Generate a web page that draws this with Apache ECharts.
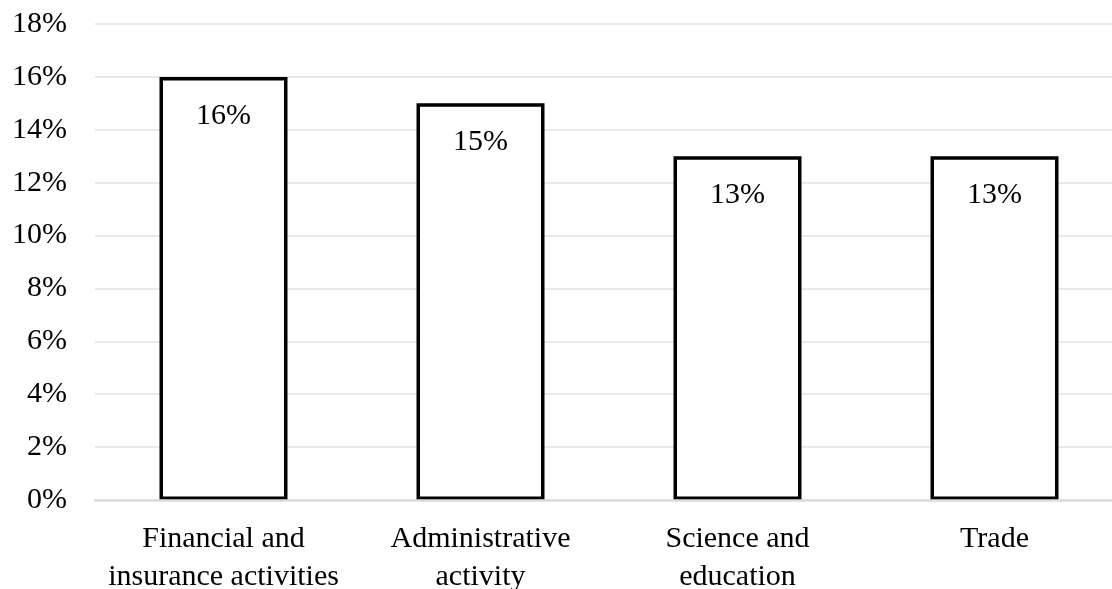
<!DOCTYPE html>
<html>
<head>
<meta charset="utf-8">
<script src="https://cdn.jsdelivr.net/npm/echarts@6/dist/echarts.min.js"></script>
<style>
  html, body { margin: 0; padding: 0; background: #fff; }
  #chart { width: 1112px; height: 589px; }
</style>
</head>
<body>
<div id="chart"></div>
<script>
const categories = [
  'Financial and\ninsurance activities',
  'Administrative\nactivity',
  'Science and\neducation',
  'Trade',
]
const shares = [16, 15, 13, 13]

const font = '"Liberation Serif", "Times New Roman", serif'
const chart = echarts.init(document.getElementById('chart'))

chart.setOption({
  animation: false,
  grid: {
    left: 95,
    top: 24,
    width: 1028,
    bottom: 89,
    outerBoundsMode: 'none',
    containLabel: false,
  },
  xAxis: {
    type: 'category',
    data: categories,
    z: 10,
    axisLine: { lineStyle: { color: '#d9dce3', width: 2.5 } },
    axisTick: { show: false },
    axisLabel: {
      color: '#000',
      fontFamily: font,
      fontSize: 30,
      lineHeight: 38,
      margin: 20,
      interval: 0,
    },
  },
  yAxis: {
    type: 'value',
    min: 0,
    max: 18,
    interval: 2,
    axisLine: { show: false },
    axisTick: { show: false },
    splitLine: { lineStyle: { color: '#dfe2e8', width: 1.5 } },
    axisLabel: {
      color: '#000',
      fontFamily: font,
      fontSize: 30,
      margin: 28,
      formatter: '{value}%',
    },
  },
  series: [
    {
      type: 'bar',
      data: shares,
      barWidth: 128,
      itemStyle: {
        color: '#fff',
        borderColor: '#000',
        borderWidth: 3.5,
      },
      label: {
        show: true,
        position: 'insideTop',
        distance: 18,
        formatter: '{c}%',
        color: '#000',
        fontFamily: font,
        fontSize: 30,
        backgroundColor: '#fff',
        padding: [6, 11],
      },
    },
  ],
})
</script>
</body>
</html>
